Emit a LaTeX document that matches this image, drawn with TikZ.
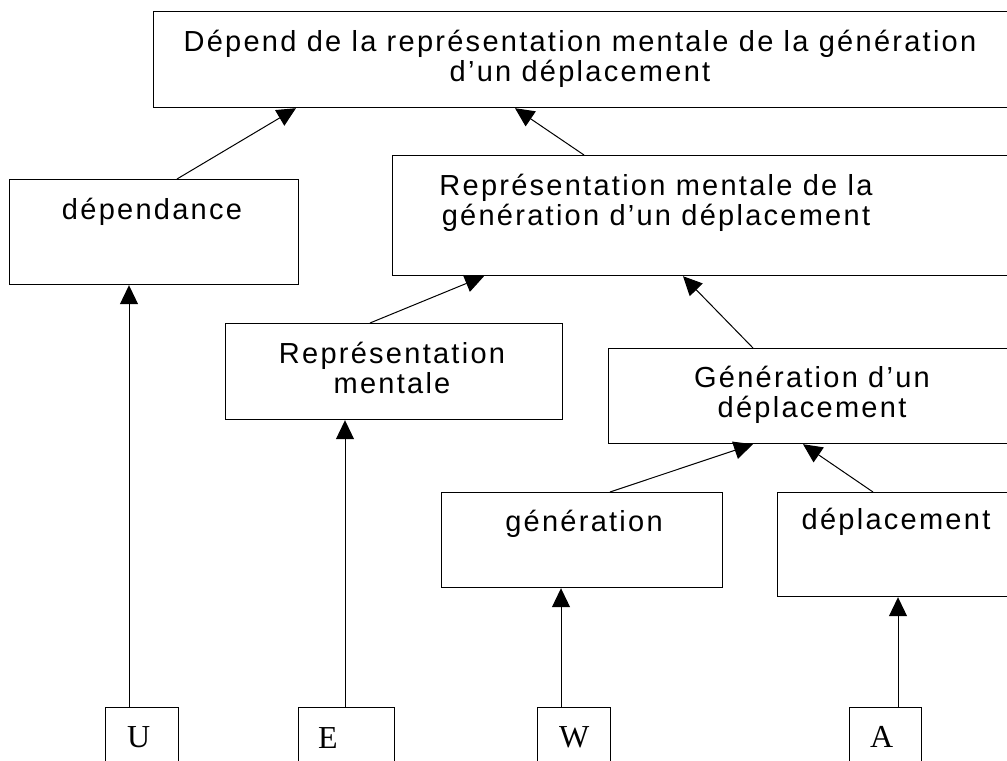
\documentclass[tikz,border=0pt]{standalone}
\usepackage{fontspec}
\usetikzlibrary{arrows.meta,calc}
\newfontfamily\boxfont[LetterSpace=7.8]{Liberation Sans}
\newfontfamily\letterfont{Liberation Serif}

\begin{document}
\begin{tikzpicture}[x=1bp,y=-1bp,
  box/.style={draw, line width=1.2bp, rectangle, inner sep=0pt, anchor=north west},
  lbl/.style={inner sep=0pt, anchor=base, align=center,
              font=\boxfont\fontsize{29bp}{30bp}\selectfont},
  letter/.style={inner sep=0pt, anchor=base west,
              font=\letterfont\fontsize{32bp}{36bp}\selectfont},
  arr/.style={line width=1bp, -{Triangle[length=19bp,width=18bp]}},
]
\useasboundingbox (0,0) rectangle (1007,761);

% concept boxes (some run past the right edge of the page)
\node[box, minimum width=863bp, minimum height=96bp]  (top)   at (153,11)  {};
\node[box, minimum width=289bp, minimum height=105bp] (dep)   at (9,179)   {};
\node[box, minimum width=630bp, minimum height=120bp] (repgen) at (392,155) {};
\node[box, minimum width=337bp, minimum height=96bp]  (repm)  at (225,323) {};
\node[box, minimum width=410bp, minimum height=95bp]  (gend)  at (608,348) {};
\node[box, minimum width=281bp, minimum height=95bp]  (gen)   at (441,492) {};
\node[box, minimum width=240bp, minimum height=104bp] (depl)  at (777,492) {};

% letter boxes at the bottom
\node[box, minimum width=73bp, minimum height=70bp] (bu) at (105,707) {};
\node[box, minimum width=96bp, minimum height=70bp] (be) at (298,707) {};
\node[box, minimum width=73bp, minimum height=70bp] (bw) at (537,707) {};
\node[box, minimum width=72bp, minimum height=70bp] (ba) at (849,707) {};

% box texts
\node[lbl] (toptx) at ($(top.north west)+(427,71)$)
  {Dépend de la représentation mentale de la génération\\d’un déplacement};
\node[lbl] (deptx) at ($(dep.north west)+(143,40)$) {dépendance};
\node[lbl] (repgentx) at ($(repgen.north west)+(264,70)$)
  {Représentation mentale de la\\génération d’un déplacement};
\node[lbl] (repmtx) at ($(repm.north west)+(167,70)$) {Représentation\\mentale};
\node[lbl] (gendtx) at ($(gend.north west)+(204,69)$) {Génération d’un\\déplacement};
\node[lbl] (gentx) at ($(gen.north west)+(143,39)$) {génération};
\node[lbl] (depltx) at ($(depl.north west)+(119,37)$) {déplacement};

\node[letter] (lu) at ($(bu.north west)+(22,40)$) {U};
\node[letter] (le) at ($(be.north west)+(20,41)$) {E};
\node[letter] (lw) at ($(bw.north west)+(22,40)$) {W};
\node[letter] (la) at ($(ba.north west)+(21,40)$) {A};

% connectors
\draw[arr] ($(dep.north west)+(168,0)$)    -- ($(top.south west)+(143,0)$);
\draw[arr] ($(repgen.north west)+(192,0)$) -- ($(top.south west)+(362,0)$);
\draw[arr] ($(repm.north west)+(145,0)$)   -- ($(repgen.south west)+(92,0)$);
\draw[arr] ($(gend.north west)+(145,0)$)   -- ($(repgen.south west)+(291,0)$);
\draw[arr] ($(gen.north west)+(169,0)$)    -- ($(gend.south west)+(145,0)$);
\draw[arr] ($(depl.north west)+(96,0)$)    -- ($(gend.south west)+(195,0)$);

\draw[arr] ($(bu.north west)+(24,0)$) -- ($(dep.south west)+(120,0)$);
\draw[arr] ($(be.north west)+(47,0)$) -- ($(repm.south west)+(120,0)$);
\draw[arr] ($(bw.north west)+(24,0)$) -- ($(gen.south west)+(120,0)$);
\draw[arr] ($(ba.north west)+(49,0)$) -- ($(depl.south west)+(121,0)$);
\end{tikzpicture}
\end{document}
